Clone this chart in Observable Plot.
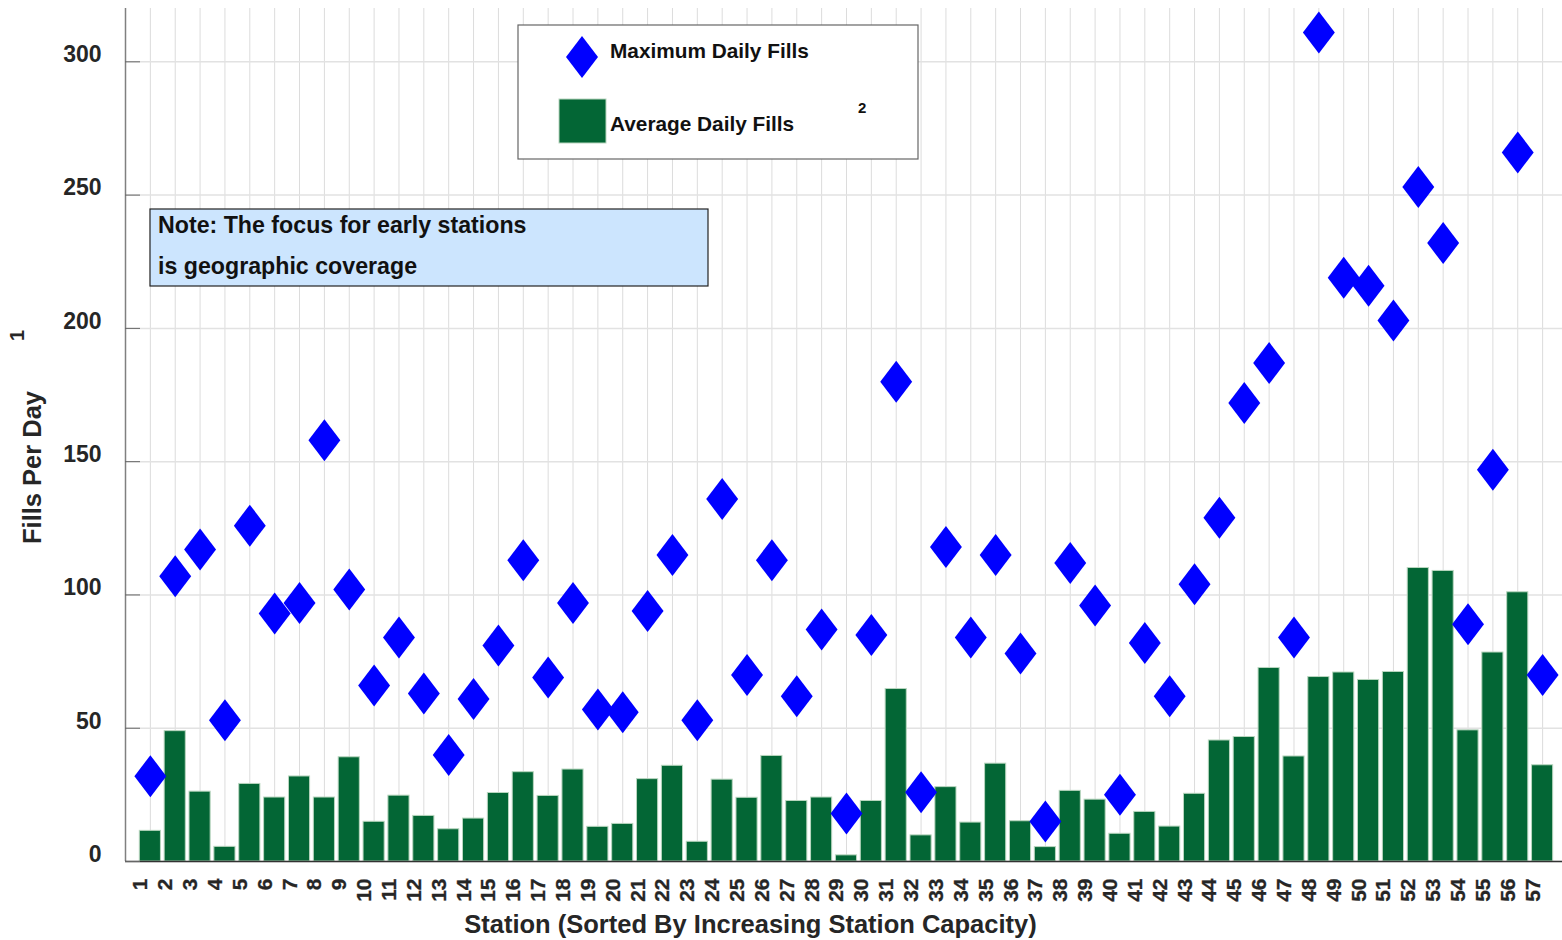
<!DOCTYPE html>
<html><head><meta charset="utf-8">
<script src="https://cdn.jsdelivr.net/npm/d3@7"></script>
<script src="https://cdn.jsdelivr.net/npm/@observablehq/plot@0.6"></script>
<style>
body{margin:0;background:#fff;}
#wrap{position:relative;width:1562px;height:940px;font-family:"Liberation Sans",Arial,sans-serif;}
#overlay{position:absolute;left:0;top:0;pointer-events:none;}
</style></head><body><div id="wrap"></div>
<script>
const stations = [1,2,3,4,5,6,7,8,9,10,11,12,13,14,15,16,17,18,19,20,21,22,23,24,25,26,27,28,29,30,31,32,33,34,35,36,37,38,39,40,41,42,43,44,45,46,47,48,49,50,51,52,53,54,55,56,57];
const maxDaily = [32,107,117,53,126,93,97,158,102,66, 84,63,40,61,81,113,69,97,57,56, 94,115,53,136,70,113,62,87,18,85, 180,26,118,84,115,78,15,112,96,25, 82,62,104,129,172,187,84,311,219,216, 203,253,232,89,147,266,70];
const avgDaily = [11.5,48.9,26.2,5.5,29.1,24,31.9,24,39.1,14.9, 24.7,17.1,12.1,16.1,25.7,33.5,24.6,34.5,13,14.1, 30.9,35.9,7.4,30.7,23.9,39.6,22.7,24,2.3,22.7, 64.7,9.8,27.9,14.6,36.7,15.1,5.4,26.5,23.2,10.4, 18.6,13.1,25.4,45.4,46.7,72.6,39.4,69.2,70.9,68.1, 71.1,110.1,109,49.2,78.4,101,36.1];
const yTicks = [0,50,100,150,200,250,300];
const seriesNames = ["Maximum Daily Fills", "Average Daily Fills"];
const xTitle = "Station (Sorted By Increasing Station Capacity)";
const yTitle = "Fills Per Day";
const noteLines = ["Note: The focus for early stations", "is geographic coverage"];

const data = stations.map((s, i) => ({station: s, max: maxDaily[i], avg: avgDaily[i]}));

const tallDiamond = {
  draw(ctx, size) {
    const r = Math.sqrt(size / Math.PI);
    const w = r * 0.76;
    ctx.moveTo(0, -r); ctx.lineTo(w, 0); ctx.lineTo(0, r); ctx.lineTo(-w, 0); ctx.closePath();
  }
};

const chart = Plot.plot({
  width: 1562, height: 940,
  marginLeft: 125, marginRight: 0, marginTop: 8, marginBottom: 79,
  style: {fontFamily: "'Liberation Sans', Arial, sans-serif", fontWeight: "bold", background: "white"},
  x: {type: "linear", domain: [0, 57.8], axis: null},
  y: {domain: [0, 320], axis: null},
  marks: [
    Plot.gridX(stations, {stroke: "#dcdcdc", strokeOpacity: 1}),
    Plot.gridY(yTicks, {stroke: "#e2e2e2", strokeOpacity: 1, strokeWidth: 1.5}),
    Plot.rectY(data, {x1: d => d.station - 0.425, x2: d => d.station + 0.425, y: "avg", fill: "#036635", stroke: "#b9d6bf", strokeWidth: 1}),
    Plot.ruleX([0], {stroke: "#808080", strokeWidth: 1.5}),
    Plot.ruleY([0], {stroke: "#333333", strokeWidth: 1.5}),
    Plot.axisY(yTicks, {tickSize: 15, dx: 15, tickFormat: () => "", label: null, stroke: "#666666"}),
    Plot.axisY(yTicks, {tickSize: 0, tickPadding: 24, dy: -7, label: null, fontSize: 23, fontWeight: "bold", fill: "#262626"}),
    Plot.dot(data, {x: "station", y: "max", r: 21, symbol: tallDiamond, fill: "#0000ff", stroke: null}),
    Plot.text(stations, {x: d => d, text: d => String(d), frameAnchor: "bottom", rotate: -90, textAnchor: "end", lineAnchor: "bottom", dx: -3, dy: 17, fontSize: 21, fontWeight: "bold", fill: "#262626", stroke: "#262626", strokeWidth: 0.3}),
    Plot.text([yTitle], {frameAnchor: "left", rotate: -90, textAnchor: "middle", lineAnchor: "middle", dx: -93, dy: 32.5, fontSize: 25.5, fontWeight: "bold", fill: "#262626"}),
    Plot.text(["1"], {frameAnchor: "left", rotate: -90, textAnchor: "middle", lineAnchor: "middle", dx: -107.5, dy: -99.5, fontSize: 20, fontWeight: "bold", fill: "#262626"}),
    Plot.text([xTitle], {frameAnchor: "bottom", textAnchor: "middle", lineAnchor: "bottom", dx: -93.5, dy: 71, fontSize: 25.5, fontWeight: "bold", fill: "#262626"})
  ]
});

const wrap = document.getElementById("wrap");
wrap.appendChild(chart);

// Overlay: legend box and note box
const ns = "http://www.w3.org/2000/svg";
const ov = document.createElementNS(ns, "svg");
ov.setAttribute("id", "overlay");
ov.setAttribute("width", 1562); ov.setAttribute("height", 940);
ov.style.fontFamily = "'Liberation Sans', Arial, sans-serif";
ov.style.fontWeight = "bold";
function el(tag, attrs, text) {
  const e = document.createElementNS(ns, tag);
  for (const k in attrs) e.setAttribute(k, attrs[k]);
  if (text != null) e.textContent = text;
  ov.appendChild(e);
  return e;
}
// legend
el("rect", {x: 518, y: 25, width: 400, height: 134, fill: "#ffffff", stroke: "#666666", "stroke-width": 1.2});
el("path", {d: "M582,36 L598,57 L582,78 L566,57 Z", fill: "#0000ff"});
el("text", {x: 610, y: 57.5, "font-size": 20.8, fill: "#111"}, seriesNames[0]);
el("rect", {x: 559, y: 99, width: 47, height: 44, fill: "#036635", stroke: "#b9d6bf", "stroke-width": 1});
el("text", {x: 610, y: 130.5, "font-size": 20.8, fill: "#111"}, seriesNames[1]);
el("text", {x: 858, y: 112.5, "font-size": 15, fill: "#111"}, "2");
// note
el("rect", {x: 150, y: 209, width: 558, height: 77, fill: "#cce5fe", stroke: "#222222", "stroke-width": 1.2});
el("text", {x: 158, y: 232.5, "font-size": 23.2, fill: "#111"}, noteLines[0]);
el("text", {x: 158, y: 274, "font-size": 23.2, fill: "#111"}, noteLines[1]);
wrap.appendChild(ov);
</script></body></html>
